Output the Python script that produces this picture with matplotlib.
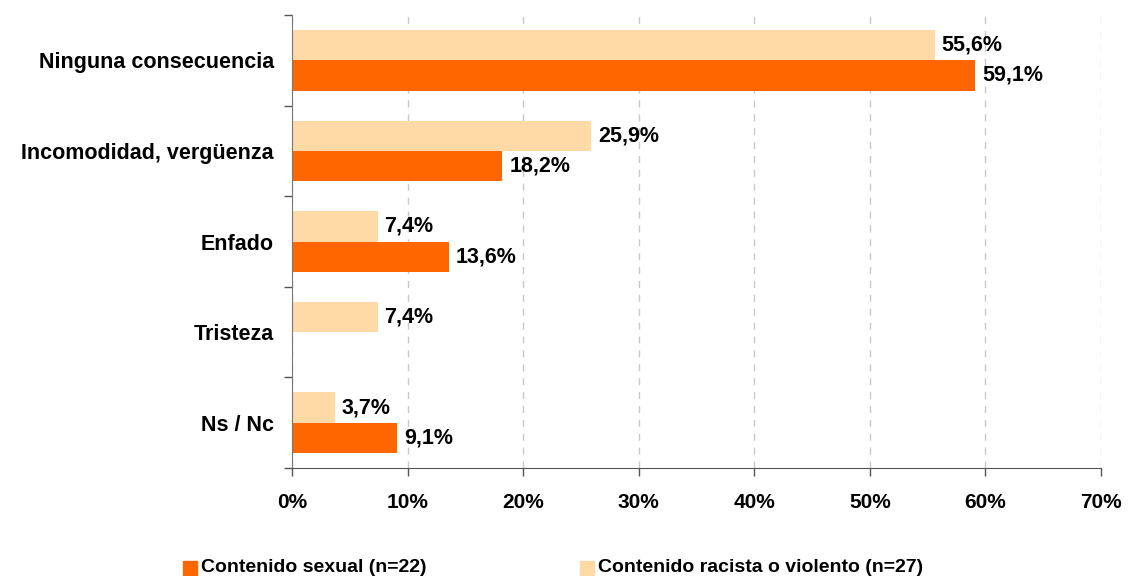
import numpy as np
import matplotlib.pyplot as plt

plt.rcParams['font.family'] = ['Liberation Sans', 'DejaVu Sans']
plt.rcParams['font.weight'] = 'bold'

categorias = ['Ninguna consecuencia', 'Incomodidad, vergüenza', 'Enfado', 'Tristeza', 'Ns / Nc']
sexual = [59.1, 18.2, 13.6, 0.0, 9.1]
racista = [55.6, 25.9, 7.4, 7.4, 3.7]
ticks_x = [0, 10, 20, 30, 40, 50, 60, 70]

c_sexual = '#FF6600'
c_racista = '#FFDAA6'

fig = plt.figure(figsize=(11.31, 5.76), dpi=100)
ax = fig.add_axes([292 / 1131, 1 - 468 / 576, (1101 - 292) / 1131, (468 - 15) / 576])

y = np.arange(len(categorias))
h = 0.335
ax.barh(y - h / 2, racista, height=h, color=c_racista, zorder=2)
ax.barh(y + h / 2, sexual, height=h, color=c_sexual, zorder=2)

for i in range(len(categorias)):
    ax.text(racista[i] + 0.6, y[i] - h / 2, f'{racista[i]:.1f}%'.replace('.', ','),
            va='center', ha='left', fontsize=15.5, fontweight='bold')
    if sexual[i] > 0:
        ax.text(sexual[i] + 0.6, y[i] + h / 2, f'{sexual[i]:.1f}%'.replace('.', ','),
                va='center', ha='left', fontsize=15.5, fontweight='bold')

ax.set_xlim(0, 70)
ax.set_ylim(len(categorias) - 0.5, -0.5)
ax.set_xticks(ticks_x)
ax.set_xticklabels([f'{t}%' for t in ticks_x], fontsize=15, fontweight='bold')
ax.set_yticks(y)
ax.set_yticklabels(categorias, fontsize=15.5, fontweight='bold')
ax.set_yticks(np.arange(len(categorias) + 1) - 0.5, minor=True)
ax.tick_params(axis='y', which='major', length=0, pad=13)
ax.tick_params(axis='y', which='minor', length=6, color='#555555', width=1)
ax.tick_params(axis='x', which='major', length=6, color='#555555', width=1, pad=12)

ax.grid(axis='x', color='#C8C8C8', linestyle=(0, (5, 5)), linewidth=1, zorder=0)
for s in ['top', 'right']:
    ax.spines[s].set_visible(False)
ax.spines['left'].set_color('#777777')
ax.spines['bottom'].set_color('#555555')

# leyenda
fig.patches.append(plt.Rectangle((183 / 1131, 1 - 575 / 576), 14 / 1131, 14 / 576,
                                 transform=fig.transFigure, color=c_sexual))
fig.text(201 / 1131, 1 - 567 / 576, 'Contenido sexual (n=22)', fontsize=14,
         fontweight='bold', va='center', ha='left')
fig.patches.append(plt.Rectangle((580 / 1131, 1 - 575 / 576), 14 / 1131, 14 / 576,
                                 transform=fig.transFigure, color=c_racista))
fig.text(598 / 1131, 1 - 567 / 576, 'Contenido racista o violento (n=27)', fontsize=14,
         fontweight='bold', va='center', ha='left')

fig.savefig('out.png', dpi=100)
